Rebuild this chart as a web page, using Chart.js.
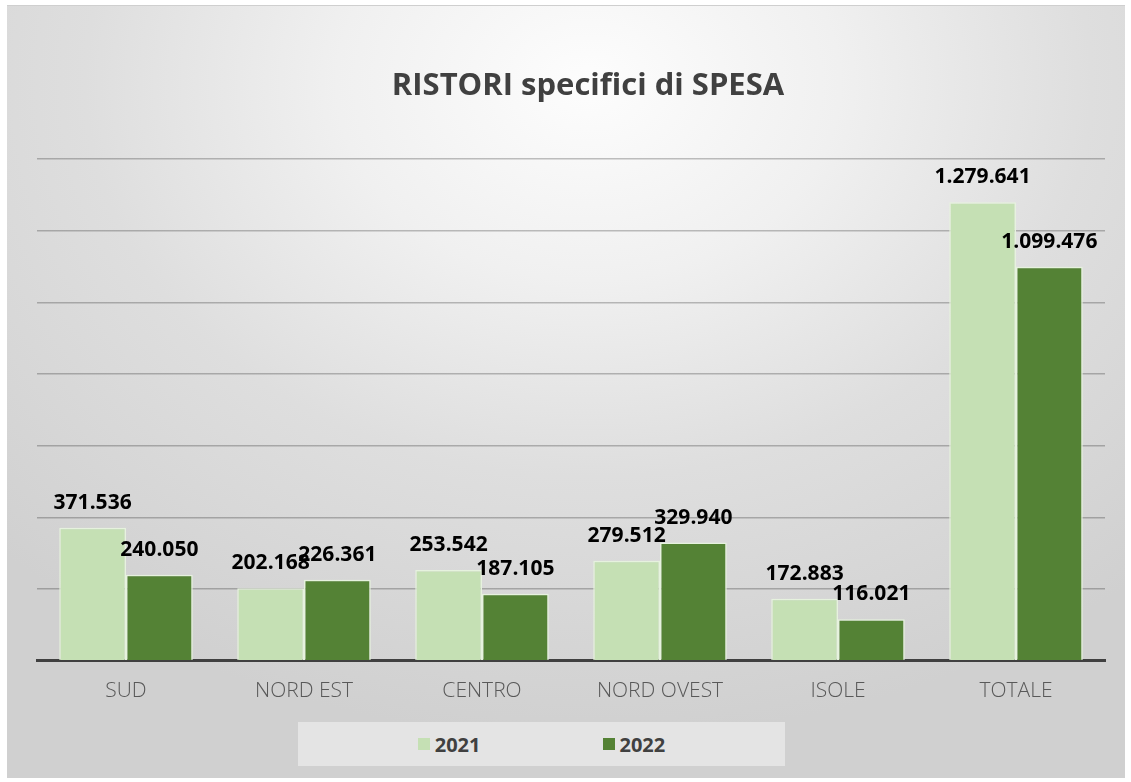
<!DOCTYPE html>
<html>
<head>
<meta charset="utf-8">
<script src="https://cdn.jsdelivr.net/npm/chart.js@4.4.0/dist/chart.umd.min.js"></script>
<style>
  html, body { margin: 0; padding: 0; background: #ffffff; }
  #frame {
    position: absolute; left: 7px; top: 5px; width: 1118px; height: 772px;
    background: radial-gradient(ellipse 75% 85% at 52% 10%, #fdfdfd 0%, #f0f0f0 30%, #dedede 60%, #d0d0d0 100%);
    border-top: 1px solid #cfcfcf;
  }
  #wrap { position: absolute; left: 0; top: 0; width: 1131px; height: 782px; }
  #legend {
    position: absolute; left: 298px; top: 722px; width: 487px; height: 44px;
    background: #e4e4e4; display: flex; align-items: center; justify-content: center;
    font-family: "Open Sans", sans-serif; font-weight: 700; font-size: 20px; color: #404040;
  }
  #legend .item { display: flex; align-items: center; margin: 0 61px; }
  #legend .box { width: 12px; height: 12px; margin-right: 5px; }
</style>
</head>
<body>
<div id="frame"></div>
<div id="wrap"><canvas id="chart1" width="1131" height="782"></canvas></div>
<div id="legend"></div>
<script>
// categories and values
const regions = ['SUD', 'NORD EST', 'CENTRO', 'NORD OVEST', 'ISOLE', 'TOTALE'];
const values2021 = [371536, 202168, 253542, 279512, 172883, 1279641];
const values2022 = [240050, 226361, 187105, 329940, 116021, 1099476];
const seriesNames = ['2021', '2022'];

// 1279641 -> "1.279.641"
function formatIt(v) {
  return String(v).replace(/\B(?=(\d{3})+(?!\d))/g, '.');
}

// draws the number above each bar
const valueLabels = {
  id: 'valueLabels',
  afterDatasetsDraw(chart) {
    const ctx = chart.ctx;
    ctx.save();
    ctx.font = 'bold 21px "Open Sans"';
    ctx.fillStyle = '#000000';
    ctx.textAlign = 'center';
    ctx.textBaseline = 'middle';
    chart.data.datasets.forEach((ds, i) => {
      chart.getDatasetMeta(i).data.forEach((bar, j) => {
        ctx.fillText(formatIt(ds.data[j]), bar.x, bar.y - 25);
      });
    });
    ctx.restore();
  }
};

const chart = new Chart(document.getElementById('chart1'), {
  type: 'bar',
  data: {
    labels: regions,
    datasets: [{
      label: seriesNames[0],
      data: values2021,
      backgroundColor: '#c5e0b4',
      borderColor: '#e6f2de',
      borderWidth: 1.5
    }, {
      label: seriesNames[1],
      data: values2022,
      backgroundColor: '#548235',
      borderColor: '#e6f2de',
      borderWidth: 1.5
    }]
  },
  options: {
    responsive: false,
    animation: false,
    layout: { padding: { left: 37, right: 26, top: 0, bottom: 68 } },
    datasets: { bar: { categoryPercentage: 0.75, barPercentage: 1.0 } },
    scales: {
      x: {
        grid: { display: false },
        border: { display: true, color: '#404040', width: 3 },
        ticks: {
          padding: 10,
          color: '#595959',
          font: { family: 'Open Sans', size: 21, weight: '300' }
        }
      },
      y: {
        min: 0,
        max: 1400000,
        ticks: { display: false, stepSize: 200000 },
        border: { display: false },
        grid: { color: 'rgba(0,0,0,0.24)', lineWidth: 1.5, drawTicks: false }
      }
    },
    plugins: {
      legend: { display: false },
      tooltip: { enabled: false },
      title: {
        display: true,
        text: 'RISTORI specifici di SPESA',
        color: '#404040',
        font: { family: 'Open Sans', size: 31, weight: '700' },
        padding: { top: 68, bottom: 54 }
      }
    }
  },
  plugins: [valueLabels]
});

// title sits a little right of centre in the original
chart.titleBlock.left += 17;
chart.titleBlock.right += 17;
chart.draw();

// html legend built from the datasets
const legendEl = document.getElementById('legend');
chart.data.datasets.forEach((ds) => {
  const item = document.createElement('div');
  item.className = 'item';
  const box = document.createElement('span');
  box.className = 'box';
  box.style.background = ds.backgroundColor;
  item.appendChild(box);
  item.appendChild(document.createTextNode(ds.label));
  legendEl.appendChild(item);
});
</script>
</body>
</html>
